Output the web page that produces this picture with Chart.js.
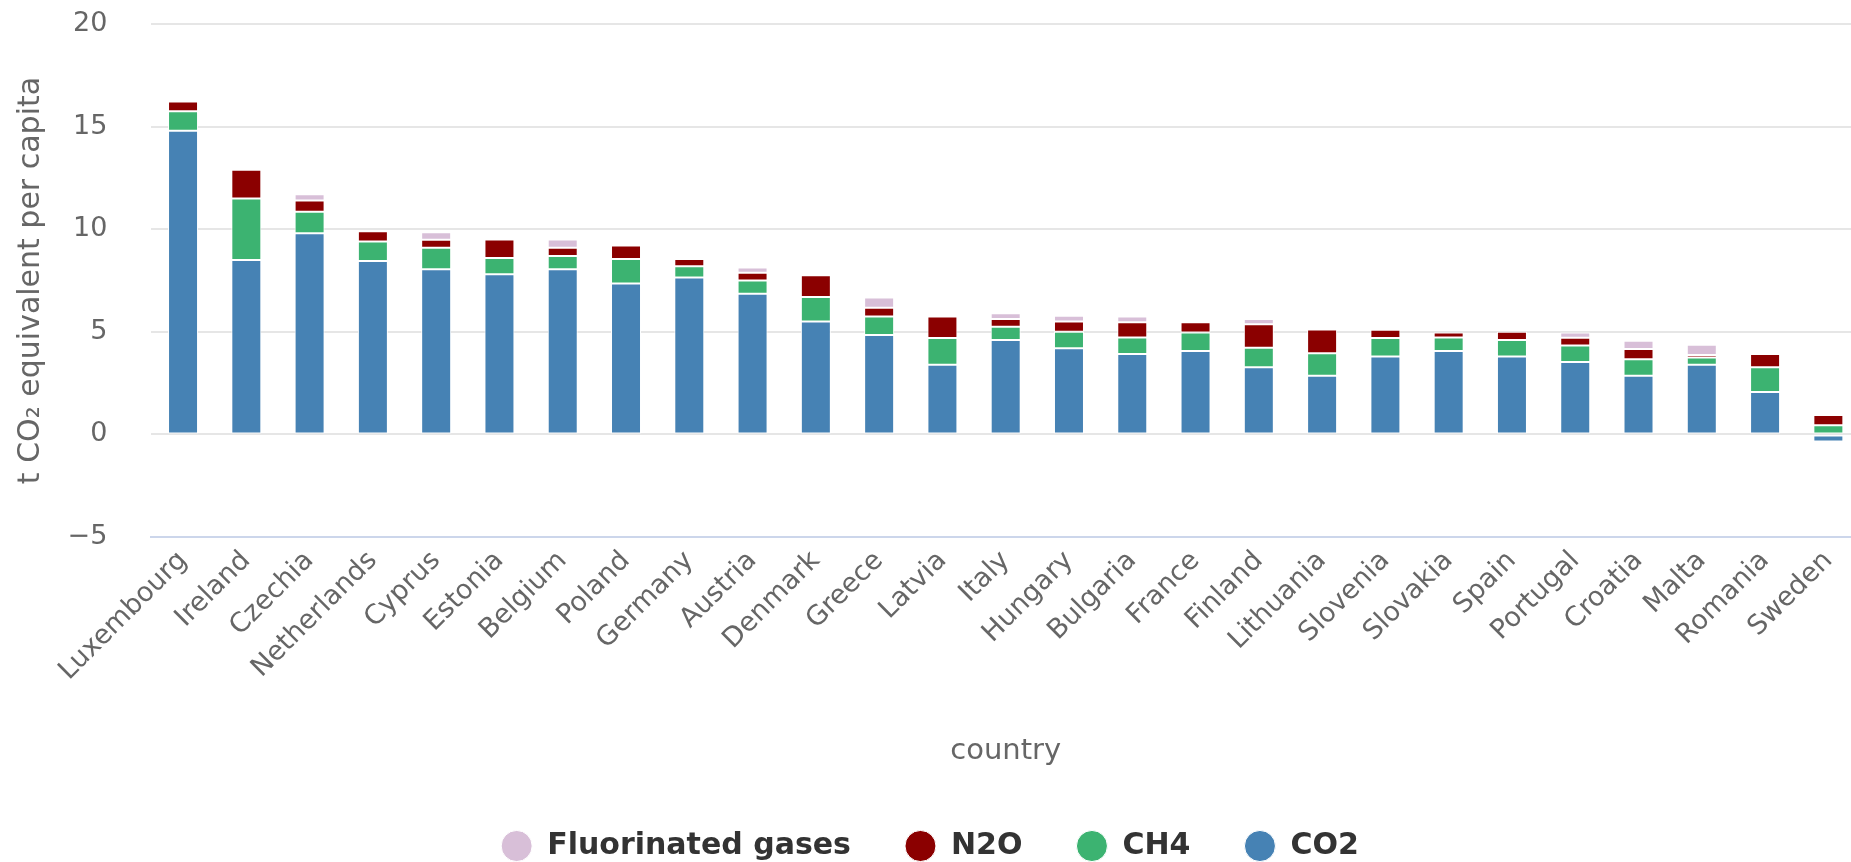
<!DOCTYPE html>
<html>
<head>
<meta charset="utf-8">
<script src="https://cdn.jsdelivr.net/npm/chart.js@4.4.1/dist/chart.umd.min.js"></script>
<style>
  html, body { margin: 0; padding: 0; background: #fff; overflow: hidden; }
  #wrap { width: 1860px; height: 862px; position: relative; }
</style>
</head>
<body>
<div id="wrap"><canvas id="chart"></canvas></div>
<script>
// per capita emissions, t CO2 equivalent
var countries = ["Luxembourg", "Ireland", "Czechia", "Netherlands", "Cyprus", "Estonia", "Belgium",
  "Poland", "Germany", "Austria", "Denmark", "Greece", "Latvia", "Italy", "Hungary", "Bulgaria",
  "France", "Finland", "Lithuania", "Slovenia", "Slovakia", "Spain", "Portugal", "Croatia",
  "Malta", "Romania", "Sweden"];
var co2    = [14.8, 8.5, 9.8, 8.45, 8.05, 7.8, 8.05, 7.35, 7.65, 6.85, 5.5, 4.85, 3.4, 4.6, 4.2, 3.92,
  4.07, 3.27, 2.86, 3.8, 4.07, 3.8, 3.53, 2.86, 3.4, 2.07, -0.35];
var ch4    = [0.95, 3.0, 1.05, 0.95, 1.05, 0.8, 0.65, 1.2, 0.55, 0.65, 1.2, 0.9, 1.3, 0.65, 0.8, 0.8,
  0.9, 0.95, 1.1, 0.9, 0.65, 0.8, 0.8, 0.8, 0.35, 1.2, 0.45];
var n2o    = [0.47, 1.4, 0.55, 0.5, 0.38, 0.9, 0.4, 0.65, 0.35, 0.38, 1.05, 0.42, 1.05, 0.37, 0.5, 0.75,
  0.5, 1.15, 1.15, 0.4, 0.25, 0.4, 0.38, 0.5, 0.12, 0.65, 0.5];
var fgases = [0, 0, 0.3, 0, 0.37, 0, 0.4, 0, 0, 0.25, 0, 0.5, 0, 0.28, 0.28, 0.28,
  0, 0.25, 0, 0, 0, 0, 0.26, 0.4, 0.5, 0, 0];
var yMin = -5, yMax = 20, yStep = 5;

Chart.defaults.font.family = "'DejaVu Sans', Verdana, sans-serif";

function series(label, data, color) {
  return {
    label: label,
    data: data,
    backgroundColor: color,
    borderColor: "#ffffff",
    borderWidth: 1,
    borderSkipped: false,
    barPercentage: 1,
    categoryPercentage: 0.474
  };
}

var ctx = document.getElementById("chart").getContext("2d");
new Chart(ctx, {
  type: "bar",
  data: {
    labels: countries,
    datasets: [
      series("CO2", co2, "#4682b4"),
      series("CH4", ch4, "#3cb371"),
      series("N2O", n2o, "#8b0000"),
      series("Fluorinated gases", fgases, "#d8bfd8")
    ]
  },
  options: {
    responsive: true,
    maintainAspectRatio: false,
    animation: false,
    layout: { padding: { top: 24, bottom: -9, left: 0, right: 0 } },
    plugins: {
      tooltip: { enabled: false },
      legend: {
        position: "bottom",
        reverse: true,
        labels: {
          usePointStyle: true,
          pointStyle: "circle",
          boxHeight: 22,
          pointStyleWidth: 31,
          padding: 54,
          color: "#333333",
          font: { size: 30, weight: "bold" }
        }
      }
    },
    scales: {
      x: {
        stacked: true,
        grid: { display: false, drawTicks: false },
        border: { display: true, color: "#ccd6eb", width: 2 },
        ticks: {
          autoSkip: false, maxRotation: 45, minRotation: 45, padding: 8,
          color: "#666666", font: { size: 27 }
        },
        title: {
          display: true, text: "country", color: "#666666",
          font: { size: 29 }, padding: { top: 0, bottom: 8 }
        },
        afterFit: function (scale) { scale.height = 240; }
      },
      y: {
        stacked: true,
        min: yMin,
        max: yMax,
        grid: { color: "#e6e6e6", lineWidth: 2, drawTicks: true, tickLength: 40, tickColor: "rgba(0,0,0,0)" },
        border: { display: false },
        ticks: {
          stepSize: yStep, padding: 4, color: "#666666", font: { size: 27 },
          callback: function (v) { return v < 0 ? "\u2212" + Math.abs(v) : v; }
        },
        title: {
          display: true, text: "t CO\u2082 equivalent per capita", color: "#666666",
          font: { size: 30 }, padding: { top: 13, bottom: 0 }
        },
        afterFit: function (scale) { scale.width = 151.4; }
      }
    }
  }
});
</script>
</body>
</html>
